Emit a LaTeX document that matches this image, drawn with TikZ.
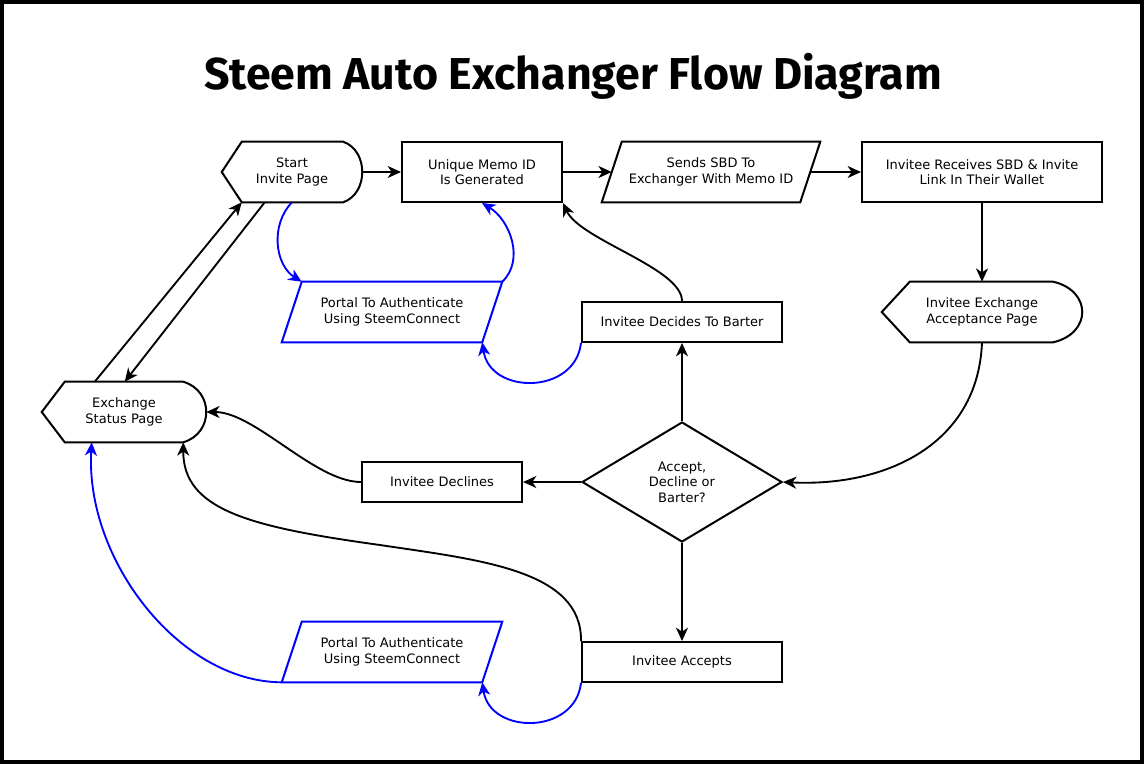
\documentclass[tikz,border=0pt]{standalone}
\usepackage{fontspec}
\setmainfont{DejaVu Sans}
\newfontfamily\titlefont{Fira Sans}
\usepackage{xcolor}
\usepackage{tikz}
\usetikzlibrary{shapes.geometric, arrows.meta, positioning, calc}
\definecolor{scblue}{RGB}{0,0,255}

\tikzset{
  lbl/.style={font=\fontsize{9.75}{11.7}\selectfont, align=center, inner sep=0pt},
  box/.style={lbl, draw, line width=1.5pt, rectangle},
  plain/.style={lbl, rectangle},
  outline/.style={line width=1.5pt},
  flow/.style={line width=1.4pt, -{Stealth[length=10pt, width=9pt, inset=3pt]}},
  auth/.style={flow, scblue},
}

% display outline round a node: node, left inset, right inset
\newcommand{\dispoutline}[3]{%
  \draw[outline] (#1.west) -- ($(#1.north west)+(#2,0)$) -- ($(#1.north east)+(-#3,0)$)
    .. controls ($(#1.north east)+({#3/3},9)$) and ($(#1.south east)+({#3/3},-9)$) .. ($(#1.south east)+(-#3,0)$)
    -- ($(#1.south west)+(#2,0)$) -- cycle;}
% parallelogram outline round a node: node, slant, style
\newcommand{\paraoutline}[3]{%
  \draw[outline, #3] (#1.south west) -- ($(#1.north west)+(#2,0)$) -- (#1.north east)
    -- ($(#1.south east)+(-#2,0)$) -- cycle;}

\begin{document}
\begin{tikzpicture}[x=0.75pt, y=-0.75pt]
\useasboundingbox (0,0) rectangle (1144,764);
\draw[line width=3pt] (2,2) rectangle (1142,762);

% Title
\node (title) at (573,76) {\titlefont\bfseries\fontsize{33.5}{36}\selectfont Steem Auto Exchanger Flow Diagram};

% Top row
\node[plain, minimum width=105pt, minimum height=45pt] (start) at (292,172) {Start\\Invite Page};
\node[box, minimum width=120pt, minimum height=45pt] (memo) at (482,172) {Unique Memo ID\\Is Generated};
\node[plain, minimum width=163.5pt, minimum height=45pt] (sends) at (711,172) {Sends SBD To\\Exchanger With Memo ID};
\node[box, minimum width=180pt, minimum height=45pt] (receives) at (982,172) {Invitee Receives SBD \& Invite\\Link In Their Wallet};

% Middle
\node[plain, minimum width=150pt, minimum height=45pt] (acceptpage) at (982,312) {Invitee Exchange\\Acceptance Page};
\node[plain, minimum width=165pt, minimum height=45pt] (portaltop) at (392,312) {Portal To Authenticate\\Using SteemConnect};
\node[box, minimum width=150pt, minimum height=30pt] (barter) at (682,322) {Invitee Decides To Barter};
\node[plain, minimum width=123pt, minimum height=45pt] (status) at (124,412) {Exchange\\Status Page};
\node[lbl, draw, diamond, line width=1.5pt, aspect=1.667, minimum width=150pt, minimum height=90pt] (choice) at (682,482) {Accept,\\Decline or\\Barter?};
\node[box, minimum width=120pt, minimum height=30pt] (declines) at (442,482) {Invitee Declines};

% Bottom
\node[plain, minimum width=165pt, minimum height=45pt] (portalbot) at (392,652) {Portal To Authenticate\\Using SteemConnect};
\node[box, minimum width=150pt, minimum height=30pt] (accepts) at (682,662) {Invitee Accepts};

% Outlines
\dispoutline{start}{20}{19}
\dispoutline{acceptpage}{28}{29}
\dispoutline{status}{23}{23}
\paraoutline{sends}{20}{black}
\paraoutline{portaltop}{20}{scblue}
\paraoutline{portalbot}{20}{scblue}

% Straight arrows
\draw[flow] (start) -- (memo);
\draw[flow] (memo) -- ($(sends.west)+(10,0)$);
\draw[flow] ($(sends.east)+(-10,0)$) -- (receives);
\draw[flow] (receives) -- (acceptpage);
\draw[flow] (choice) -- (barter);
\draw[flow] (choice) -- (declines);
\draw[flow] (choice) -- (accepts);
\draw[flow] ($(status.north west)+(53,0)$) -- ($(start.south west)+(20,0)$);
\draw[flow] ($(start.south west)+(43,0)$) -- ($(status.north west)+(83,0)$);

% Curved arrows
\draw[flow] (acceptpage.south) .. controls (978,445) and (885,487) .. (choice.east);
\draw[flow] (barter.north) .. controls (682,268) and (580,240) .. (memo.south east);
\draw[flow] (declines.west) .. controls (315,482) and (255,412) .. (status.east);
\draw[flow] (accepts.north west) .. controls (582,570) and (480,560) .. (380,545)
  .. controls (250,527) and (183,510) .. ($(status.south east)+(-23,0)$);

% Authentication loops
\draw[auth] (start.south) .. controls (270,225) and (275,265) .. ($(portaltop.north west)+(20,0)$);
\draw[auth] (portaltop.north east) .. controls (525,260) and (510,220) .. (memo.south);
\draw[auth] (barter.south west) .. controls (575,395) and (490,395) .. ($(portaltop.south east)+(-20,0)$);
\draw[auth] (accepts.south west) .. controls (575,735) and (490,735) .. ($(portalbot.south east)+(-20,0)$);
\draw[auth] (portalbot.south west) .. controls (180,682) and (85,560) .. ($(status.south west)+(50,0)$);
\end{tikzpicture}
\end{document}
